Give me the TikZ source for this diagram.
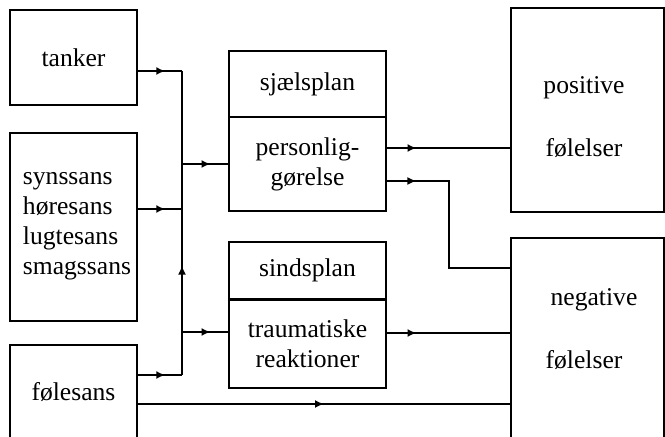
\documentclass[tikz,border=0pt]{standalone}
\usepackage{fontspec}
\setmainfont{Liberation Serif}
\usetikzlibrary{arrows.meta,positioning,decorations.markings}
\tikzstyle{box}=[rectangle,draw=black,line width=1pt,inner sep=0pt,
align=center,font=\fontsize{12.8}{15}\selectfont]
\tikzstyle{txt}=[inner sep=0pt,align=left,font=\fontsize{12.8}{15}\selectfont]
\tikzstyle{flow}=[line width=0.9pt,postaction={decorate},
decoration={markings,mark=at position #1 with {\arrow{Latex[length=4.5pt,width=4pt]}}}]
\begin{document}
\begin{tikzpicture}[x=0.5pt,y=-0.5pt]
  \useasboundingbox (0,0) rectangle (665,437);
  \clip (0,0) rectangle (665,437);
  		\node[box,minimum width=63.5pt,minimum height=47.5pt] (tanker) at (73.5,57.5) {tanker};
  		\node[box,minimum width=63.5pt,minimum height=94pt] (sanser) at (73.5,227) {};
  		\node[txt] (sansertxt) at (77,226) {synssans\\høresans\\lugtesans\\smagssans};
  		\node[box,minimum width=63.5pt,minimum height=47pt] (foelesans) at (73.5,392) {følesans};

  		\node[box,minimum width=78.5pt,minimum height=33pt] (sjael) at (307.5,84) {sjælsplan};
  		\node[box,minimum width=78.5pt,minimum height=47pt,below=-1pt of sjael] (personlig) {personlig-\\gørelse};
  		\node[box,minimum width=78.5pt,minimum height=28.5pt] (sind) at (307.5,270.5) {sindsplan};
  		\node[box,minimum width=78.5pt,minimum height=44pt,below=-0.5pt of sind] (traume) {traumatiske\\reaktioner};

  		\node[box,minimum width=76.5pt,minimum height=102pt] (positiv) at (587.5,110) {};
  		\node[txt] (positivtxt) at (584,88) {positive};
  		\node[txt] (positivtxt2) at (584,148) {følelser};
  		\node[box,minimum width=76.5pt,minimum height=103.5pt] (negativ) at (587.5,341.5) {};
  		\node[txt] (negativtxt) at (594,300) {negative};
  		\node[txt] (negativtxt2) at (584,360) {følelser};

  		\coordinate (bustop) at (182,71);
  		\coordinate (busmid) at (182,209);
  		\coordinate (busbot) at (182,375);
  		\coordinate (busup) at (182,164);
  		\coordinate (busdown) at (182,332);
  		\coordinate (knee) at (449,268);

  		\draw[flow=0.62] (tanker.east |- bustop) -- (bustop);
  		\draw[flow=0.62] (sanser.east |- busmid) -- (busmid);
  		\draw[flow=0.62] (foelesans.east |- busbot) -- (busbot);
  		\draw[flow=0.36] (busbot) -- (bustop);
  		\draw[flow=0.62] (busup) -- (busup -| personlig.west);
  		\draw[flow=0.62] (busdown) -- (busdown -| traume.west);

  		\draw[flow=0.24] ([yshift=8pt]personlig.east) -- ([yshift=8pt]personlig.east -| positiv.west);
  		\draw[flow=0.14] ([yshift=-8.5pt]personlig.east) -- ([yshift=-8.5pt]personlig.east -| knee) -- (knee) -- (knee -| negativ.west);
  		\draw[flow=0.24] ([yshift=5.5pt]traume.east) -- ([yshift=5.5pt]traume.east -| negativ.west);
  		\draw[flow=0.5] ([yshift=-6pt]foelesans.east) -- ([yshift=-6pt]foelesans.east -| negativ.west);

	\end{tikzpicture}
\end{document}
